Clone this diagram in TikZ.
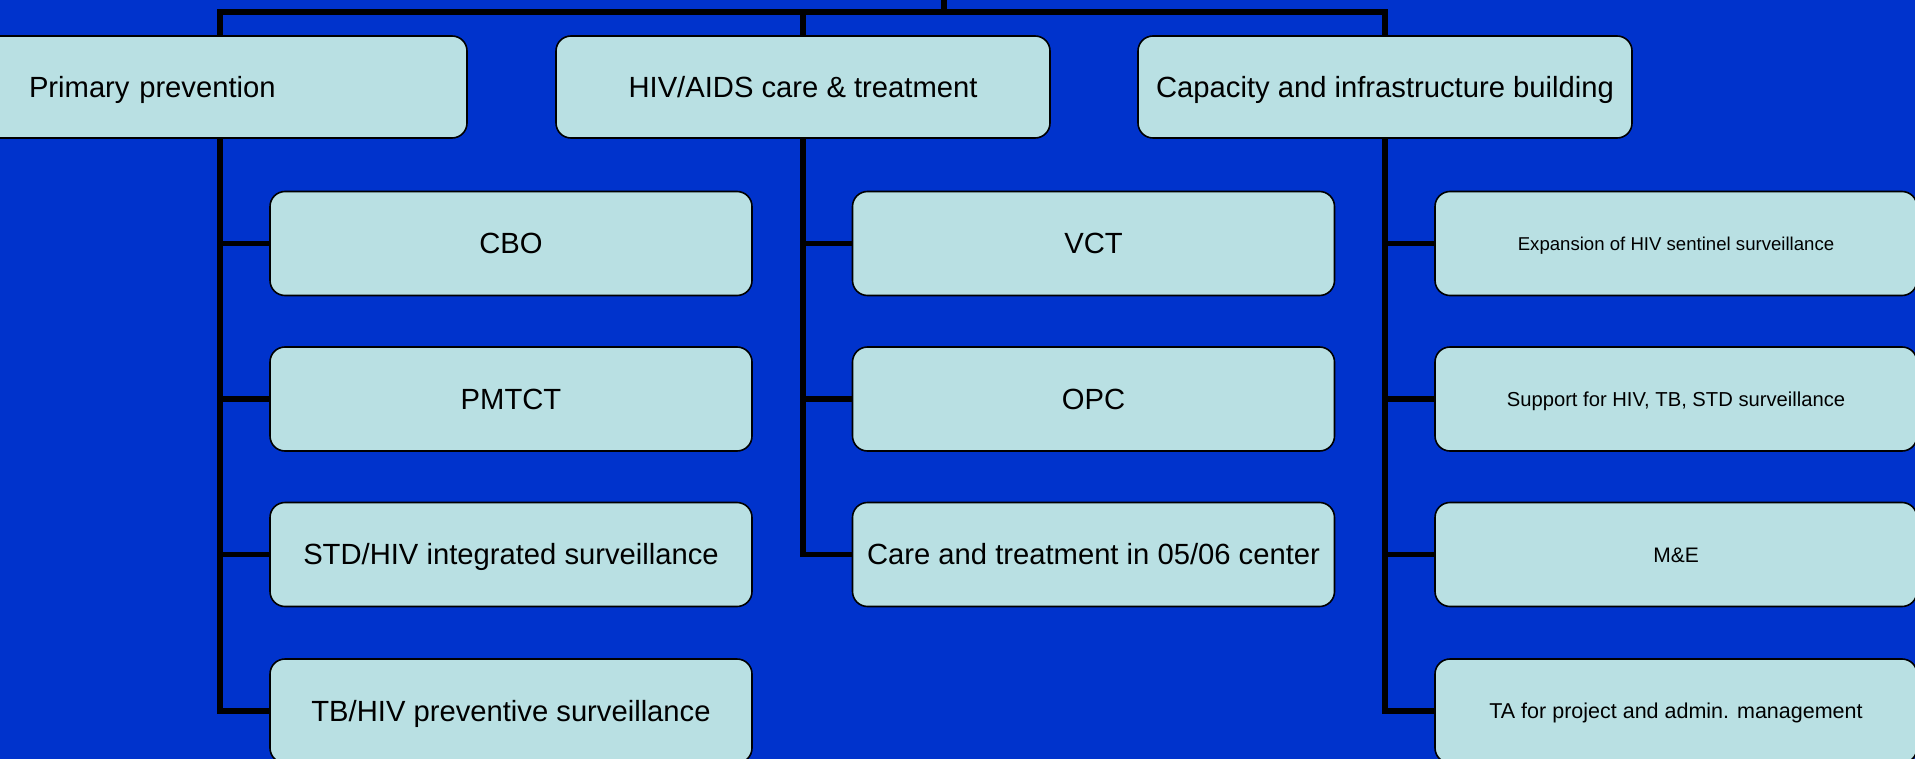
\documentclass[tikz,border=0pt]{standalone}
\usepackage{fontspec}
\setmainfont{Liberation Sans}
\definecolor{bgblue}{RGB}{0,51,204}
\definecolor{boxfill}{RGB}{185,224,227}
\begin{document}
\begin{tikzpicture}[x=0.5pt,y=-0.5pt,
  box/.style={draw=black, line width=0.8pt, fill=boxfill, rounded corners=7.5pt,
    minimum height=52pt, minimum width=241pt, inner sep=0pt,
    text height=10.45pt, text depth=0pt,
    font=\fontsize{14.6}{17}\selectfont, align=center},
  topbox/.style={box, minimum height=51pt, minimum width=247pt},
  small/.style 2 args={font=\fontsize{#1}{12}\selectfont, text height=#2},
  conn/.style={line width=2.8pt, draw=black}]
\useasboundingbox (0,0) rectangle (1915,759);
\clip (0,0) rectangle (1915,759);
\fill[bgblue] (-5,-5) rectangle (1920,765);

% top level
\node[topbox, text width=191pt, align=left, inner xsep=28pt] (P) at (220,87) {Primary prevention};
\node[topbox] (H) at (803,87) {HIV/AIDS care \& treatment};
\node[topbox] (C) at (1385,87) {Capacity and infrastructure building};

% left column
\node[box] (p1) at (511,243.5) {CBO};
\node[box] (p2) at (511,399) {PMTCT};
\node[box] (p3) at (511,554.5) {STD/HIV integrated surveillance};
\node[box] (p4) at (511,711) {TB/HIV preventive surveillance};

% middle column
\node[box] (h1) at (1093.5,243.5) {VCT};
\node[box] (h2) at (1093.5,399) {OPC};
\node[box] (h3) at (1093.5,554.5) {Care and treatment in 05/06 center};

% right column
\node[box, small={9.3}{6.66pt}] (c1) at (1676,243.5) {Expansion of HIV sentinel surveillance};
\node[box, small={10.1}{7.23pt}] (c2) at (1676,399) {Support for HIV, TB, STD surveillance};
\node[box, small={10.5}{7.52pt}] (c3) at (1676,554.5) {M\&E};
\node[box, small={10.75}{7.7pt}] (c4) at (1676,711) {TA for project and admin. management};

% connectors
\coordinate (root) at (944,0);
\coordinate (bar) at (944,12);
\draw[conn] (root) -- (bar);
\draw[conn] (P.north) |- (bar) -| (C.north);
\draw[conn] (H.north) -- (H.north |- bar);

\draw[conn] (P.south) |- (p4.west);
\foreach \n in {p1,p2,p3} \draw[conn] (P.south |- \n.west) -- (\n.west);

\draw[conn] (H.south) |- (h3.west);
\foreach \n in {h1,h2} \draw[conn] (H.south |- \n.west) -- (\n.west);

\draw[conn] (C.south) |- (c4.west);
\foreach \n in {c1,c2,c3} \draw[conn] (C.south |- \n.west) -- (\n.west);
\end{tikzpicture}
\end{document}
